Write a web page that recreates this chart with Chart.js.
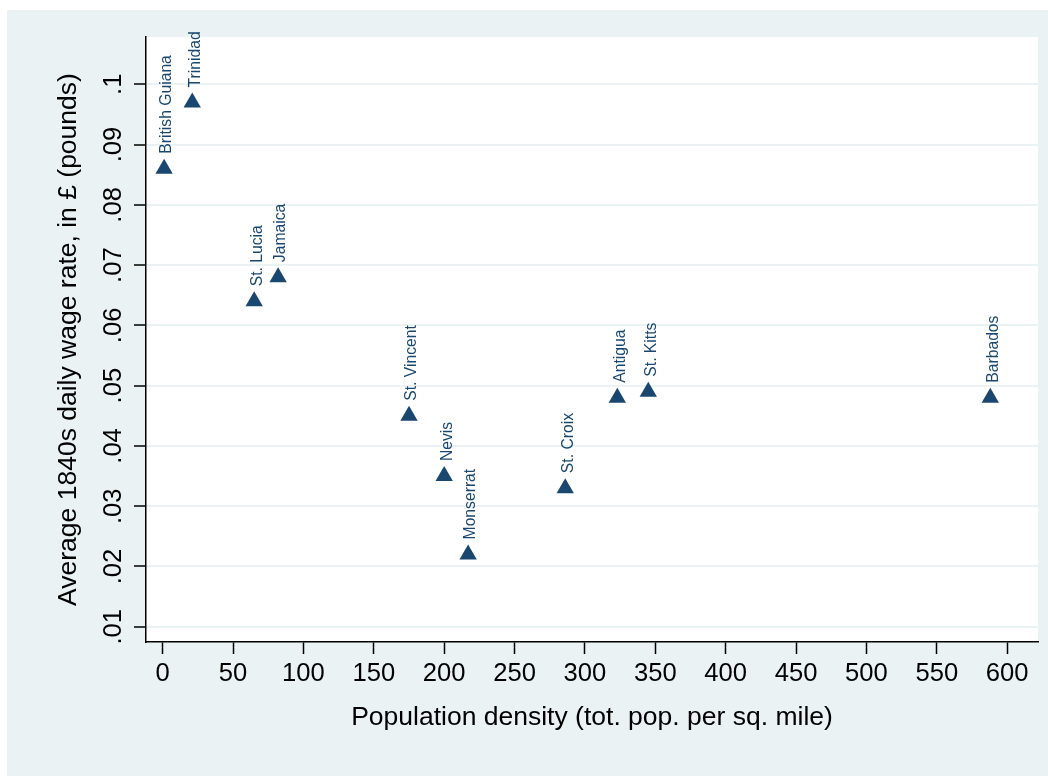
<!DOCTYPE html>
<html>
<head>
<meta charset="utf-8">
<script src="https://cdn.jsdelivr.net/npm/chart.js@4/dist/chart.umd.min.js"></script>
<style>
  html, body { margin: 0; padding: 0; background: #ffffff; }
  #wrap { width: 1048px; height: 776px; }
</style>
</head>
<body>
<div id="wrap"><canvas id="c" width="1048" height="776"></canvas></div>
<script>
// ---- data ----
const islands = ["British Guiana", "Trinidad", "St. Lucia", "Jamaica", "St. Vincent", "Nevis", "Monserrat", "St. Croix", "Antigua", "St. Kitts", "Barbados"];
const density = [1, 21, 65, 82, 175, 200, 217, 286, 323, 345, 588];
const wage = [0.086, 0.097, 0.064, 0.068, 0.045, 0.035, 0.022, 0.033, 0.048, 0.049, 0.048];
const xTickValues = [0, 50, 100, 150, 200, 250, 300, 350, 400, 450, 500, 550, 600];
const xTickLabels = ["0", "50", "100", "150", "200", "250", "300", "350", "400", "450", "500", "550", "600"];
const yTickValues = [0.01, 0.02, 0.03, 0.04, 0.05, 0.06, 0.07, 0.08, 0.09, 0.1];
const yTickLabels = [".01", ".02", ".03", ".04", ".05", ".06", ".07", ".08", ".09", ".1"];
const xTitle = "Population density (tot. pop. per sq. mile)";
const yTitle = "Average 1840s daily wage rate, in £ (pounds)";

// ---- style ----
const FONT = "'Liberation Sans', Arial, Helvetica, sans-serif";
const NAVY = "#1A476F";
const PANEL = "#EAF2F3";

const points = density.map((d, i) => ({ x: d, y: wage[i] }));

const backgroundPlugin = {
  id: 'bg',
  beforeDraw(chart) {
    const ctx = chart.ctx;
    const a = chart.chartArea;
    ctx.save();
    ctx.fillStyle = '#ffffff';
    ctx.fillRect(0, 0, chart.width, chart.height);
    ctx.fillStyle = PANEL;
    ctx.fillRect(7, 10, chart.width - 7, chart.height - 10);
    ctx.fillStyle = '#ffffff';
    ctx.fillRect(a.left, a.top, a.right - a.left, a.bottom - a.top);
    ctx.restore();
  }
};

const labelPlugin = {
  id: 'pointLabels',
  afterDatasetsDraw(chart) {
    const ctx = chart.ctx;
    const meta = chart.getDatasetMeta(0);
    ctx.save();
    ctx.fillStyle = NAVY;
    ctx.font = "15.7px " + FONT;
    ctx.textAlign = 'left';
    ctx.textBaseline = 'middle';
    meta.data.forEach((el, i) => {
      ctx.save();
      ctx.translate(el.x + 3, el.y - 15);
      ctx.rotate(-Math.PI / 2);
      ctx.fillText(islands[i], 0, 0);
      ctx.restore();
    });
    ctx.restore();
  }
};

new Chart(document.getElementById('c'), {
  type: 'scatter',
  data: {
    datasets: [{
      data: points,
      pointStyle: 'triangle',
      pointRadius: 10,
      pointHoverRadius: 10,
      pointBackgroundColor: NAVY,
      pointBorderColor: NAVY,
      pointBorderWidth: 0,
      showLine: false
    }]
  },
  options: {
    responsive: false,
    devicePixelRatio: 1,
    animation: false,
    events: [],
    layout: { padding: { left: 0, top: 37, right: 10, bottom: 0 } },
    plugins: {
      legend: { display: false },
      tooltip: { enabled: false },
      title: { display: false }
    },
    scales: {
      x: {
        type: 'linear',
        position: 'bottom',
        min: -11.87,
        max: 621.9,
        afterBuildTicks(scale) { scale.ticks = xTickValues.map(v => ({ value: v })); },
        afterFit(scale) { scale.height = 134; },
        ticks: {
          autoSkip: false,
          maxRotation: 0,
          minRotation: 0,
          padding: 5,
          color: '#000000',
          font: { family: FONT, size: 25.6 },
          callback: (v, i) => xTickLabels[i]
        },
        grid: {
          display: true,
          drawOnChartArea: false,
          drawTicks: true,
          tickLength: 12,
          tickColor: '#000000',
          tickWidth: 1.5
        },
        border: { display: true, color: '#000000', width: 1.5 },
        title: {
          display: true,
          text: xTitle,
          color: '#000000',
          font: { family: FONT, size: 26.5 },
          padding: { top: 0, bottom: 42.6 }
        }
      },
      y: {
        type: 'linear',
        position: 'left',
        min: 0.00747,
        max: 0.10785,
        afterBuildTicks(scale) { scale.ticks = yTickValues.map(v => ({ value: v })); },
        afterFit(scale) { scale.width = 146; },
        ticks: {
          autoSkip: false,
          minRotation: 90,
          maxRotation: 90,
          crossAlign: 'center',
          padding: 2,
          color: '#000000',
          font: { family: FONT, size: 25.6 },
          callback: (v, i) => yTickLabels[i]
        },
        grid: {
          display: true,
          drawOnChartArea: true,
          drawTicks: true,
          color: PANEL,
          lineWidth: 2,
          tickLength: 12,
          tickColor: '#000000',
          tickWidth: 1.5
        },
        border: { display: true, color: '#000000', width: 1.5 },
        title: {
          display: true,
          text: yTitle,
          color: '#000000',
          font: { family: FONT, size: 26.5 },
          padding: { top: 53.2, bottom: 0 }
        }
      }
    }
  },
  plugins: [backgroundPlugin, labelPlugin]
});
</script>
</body>
</html>
